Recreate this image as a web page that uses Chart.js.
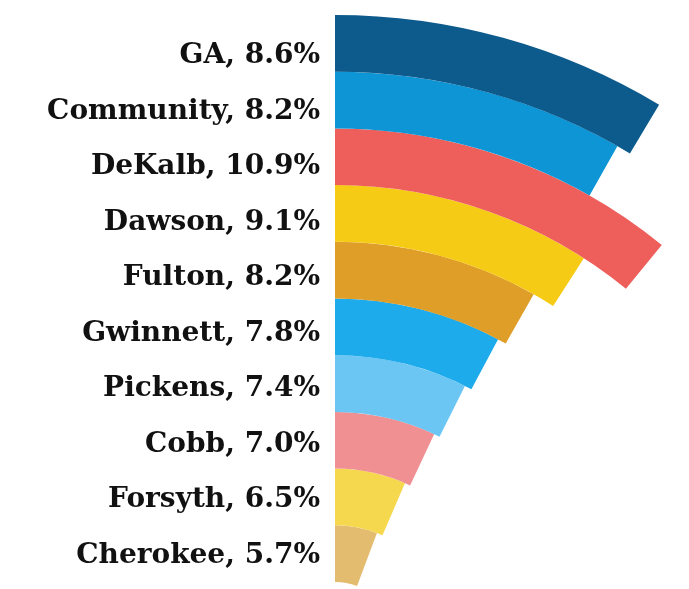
<!DOCTYPE html>
<html>
<head>
<meta charset="utf-8">
<script src="https://cdn.jsdelivr.net/npm/chart.js@4"></script>
<style>
  html, body { margin: 0; padding: 0; background: #ffffff; }
  #wrap { width: 689px; height: 589px; position: relative; }
</style>
</head>
<body>
<div id="wrap"><canvas id="c"></canvas></div>
<script>
// ---- data ----
const categories = ["GA", "Community", "DeKalb", "Dawson", "Fulton", "Gwinnett", "Pickens", "Cobb", "Forsyth", "Cherokee"];
const values = [8.6, 8.2, 10.9, 9.1, 8.2, 7.8, 7.4, 7.0, 6.5, 5.7];
const fullScale = 100; // a full circle = 100%
const colors = ["#0D5B8C", "#0D95D5", "#EE5E5B", "#F6CB16", "#DF9E28", "#1EABEC", "#6CC6F3", "#F19092", "#F6D84E", "#E4BC70"];

const datasets = categories.map((name, i) => ({
  label: name,
  data: [values[i], fullScale - values[i]],
  backgroundColor: [colors[i], "rgba(0,0,0,0)"],
  borderWidth: 0,
  hoverOffset: 0,
  clip: false
}));

const labelPlugin = {
  id: "ringLabels",
  afterDatasetsDraw(chart) {
    const ctx = chart.ctx;
    ctx.save();
    ctx.font = "bold 28px 'DejaVu Serif'";
    ctx.fillStyle = "#111111";
    ctx.textAlign = "right";
    ctx.textBaseline = "alphabetic";
    chart.data.datasets.forEach((ds, i) => {
      const arc = chart.getDatasetMeta(i).data[0];
      const p = arc.getProps(["x", "y", "outerRadius", "innerRadius"], true);
      const mid = p.y - (p.outerRadius + p.innerRadius) / 2 + (10 - 1.2 * i);
      const txt = categories[i] + ", " + values[i].toFixed(1) + "%";
      ctx.fillText(txt, p.x - 15, mid + 10);
    });
    ctx.restore();
  }
};

new Chart(document.getElementById("c"), {
  type: "doughnut",
  data: { labels: ["value", "rest"], datasets },
  options: {
    responsive: true,
    maintainAspectRatio: false,
    animation: false,
    events: [],
    radius: 630,
    cutout: "10%",
    layout: { padding: { left: 0, right: 19, top: 645, bottom: 0 } },
    plugins: { legend: { display: false }, tooltip: { enabled: false } }
  },
  plugins: [labelPlugin]
});
</script>
</body>
</html>
